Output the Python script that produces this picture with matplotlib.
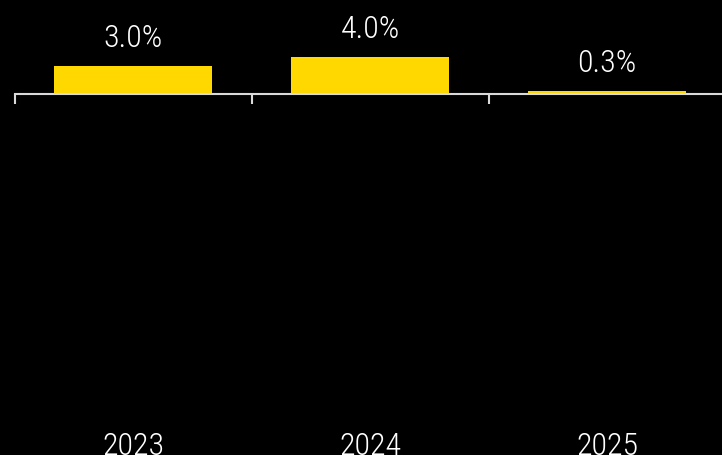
import matplotlib
matplotlib.use("Agg")
import matplotlib.pyplot as plt
import matplotlib.transforms as mtransforms

years = ["2023", "2024", "2025"]
growth = [3.0, 4.0, 0.3]
labels = ["3.0%", "4.0%", "0.3%"]

plt.rcParams['font.family'] = ['Roboto Condensed', 'Fira Sans Condensed', 'DejaVu Sans']

fig = plt.figure(figsize=(7.22, 4.56), dpi=100, facecolor="black")
ax = fig.add_axes([15 / 722, 0, 707 / 722, 1])
ax.set_facecolor("black")

x = list(range(len(years)))
ax.bar(x, growth, width=0.667, color="#FFD800", zorder=2)

# pixels per percent ~9.2, baseline 95px from top
ax.set_ylim(-361 / 9.2, 95 / 9.2)
ax.set_xlim(-0.5, 2.485)

for xi, v, lab in zip(x, growth, labels):
    ax.annotate(lab, (xi, v), xytext=(0, 14.4), textcoords="offset points",
                ha="center", va="baseline", color="white", fontsize=23,
                fontweight="light")

trans = mtransforms.blended_transform_factory(ax.transData, ax.transAxes)
for xi, yr in zip(x, years):
    ax.text(xi, 1 / 456, yr, transform=trans, ha="center", va="baseline",
            color="white", fontsize=23, fontweight="light")

for s in ["top", "right", "left"]:
    ax.spines[s].set_visible(False)
ax.spines["bottom"].set_position(("data", 0))
ax.spines["bottom"].set_color("#d9d9d9")
ax.spines["bottom"].set_linewidth(1.5)
ax.spines["bottom"].set_zorder(3)

ax.set_yticks([])
ax.set_xticks([-0.5, 0.5, 1.5])
ax.set_xticklabels([])
ax.tick_params(axis="x", direction="out", length=7, width=1.5, color="#d9d9d9")

fig.savefig("out.png", dpi=100, facecolor="black")
